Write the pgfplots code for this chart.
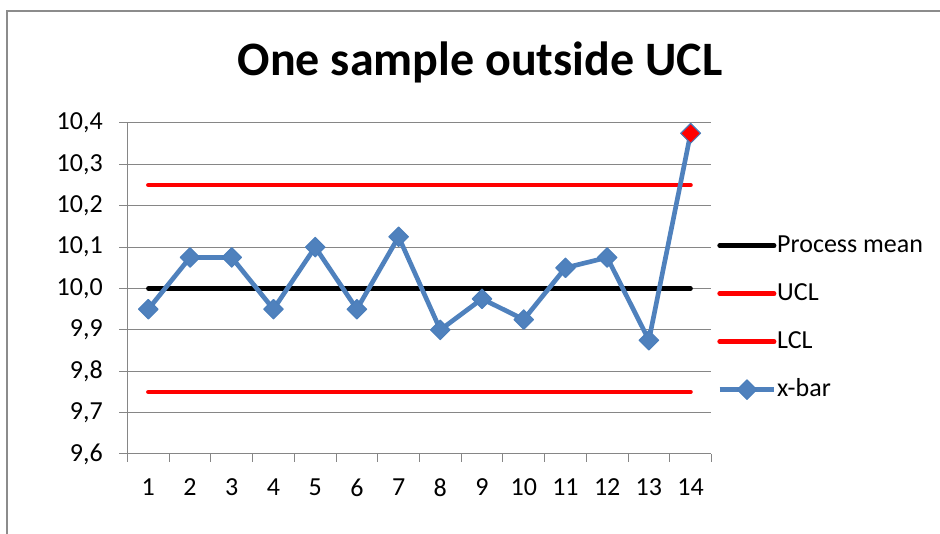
\documentclass[border=0pt]{standalone}
\usepackage{pgfplots}
\pgfplotsset{compat=1.18}
\usepackage{fontspec}
\setmainfont{Carlito}

\definecolor{sampleblue}{HTML}{4F81BD}
\definecolor{sampleedge}{HTML}{4A7EBB}
\definecolor{gridgray}{HTML}{868686}
\definecolor{framegray}{HTML}{8C8C8C}

\begin{document}
\begin{tikzpicture}
% picture area: 940 x 534 px, 1 px = 0.75pt
\useasboundingbox (0,0) rectangle (705pt,400.5pt);
\draw[framegray, line width=1.5pt] (5.25pt,0pt) -- (5.25pt,392.6pt) -- (705pt,392.6pt);
\node[font=\bfseries\fontsize{36}{40}\selectfont] at (360pt,354pt) {One sample outside UCL};

\begin{axis}[
    at={(95.6pt,60pt)}, anchor=south west,
    scale only axis,
    width=438pt, height=248.25pt,
    xmin=0.5, xmax=14.5,
    ymin=9.6, ymax=10.4,
    xtick={0.5,1.5,...,14.5},
    x tick label as interval,
    xticklabels={1,2,3,4,5,6,7,8,9,10,11,12,13,14},
    ytick={9.6,9.7,...,10.41},
    ymajorgrids,
    major grid style={gridgray, line width=0.75pt},
    axis line style={gridgray, line width=0.75pt},
    axis x line*=bottom, axis y line*=left,
    tick style={gridgray, line width=0.75pt},
    tick align=outside,
    major tick length=6pt,
    tick label style={font=\fontsize{19.5}{22}\selectfont, text=black},
    xticklabel style={yshift=-9pt},
    yticklabel style={xshift=-9pt},
    yticklabel={\pgfmathprintnumber[fixed,fixed zerofill,precision=1,use comma,assume math mode=true]{\tick}},
    clip=false,
    legend style={
        at={(1.0094,0.412)}, anchor=west,
        draw=none, fill=none, inner sep=0pt,
        font=\fontsize{19.5}{22}\selectfont,
        nodes={inner sep=0pt, text height=14pt, text depth=4pt},
        row sep=18pt, column sep=0.5pt,
        cells={anchor=west},
    },
    legend image code/.code={
        \draw[mark repeat=2,mark phase=2,#1] plot coordinates {(0pt,0pt) (20.5pt,0pt) (41pt,0pt)};
    },
]
% process mean
\addplot[black, line width=3.3pt, line cap=round] coordinates {(1,10.0) (14,10.0)};
\addlegendentry{Process mean}
% upper control limit
\addplot[red, line width=3.3pt, line cap=round] coordinates {(1,10.25) (14,10.25)};
\addlegendentry{UCL}
% lower control limit
\addplot[red, line width=3.3pt, line cap=round] coordinates {(1,9.75) (14,9.75)};
\addlegendentry{LCL}
% sample means
\addplot[sampleblue, line width=3.5pt, line join=round, mark=square*,
    mark size=5.2pt, mark options={rotate=45, fill=sampleblue, draw=sampleedge, line width=0.75pt}]
    coordinates {
        (1,9.95) (2,10.075) (3,10.075) (4,9.95) (5,10.1) (6,9.95) (7,10.125)
        (8,9.9) (9,9.975) (10,9.925) (11,10.05) (12,10.075) (13,9.875) (14,10.375)
    };
\addlegendentry{x-bar}
% the out-of-control sample
\addplot[only marks, mark=square*, mark size=5.2pt, forget plot,
    mark options={rotate=45, fill=red, draw=sampleedge, line width=0.75pt}]
    coordinates {(14,10.375)};
\end{axis}
\end{tikzpicture}
\end{document}
